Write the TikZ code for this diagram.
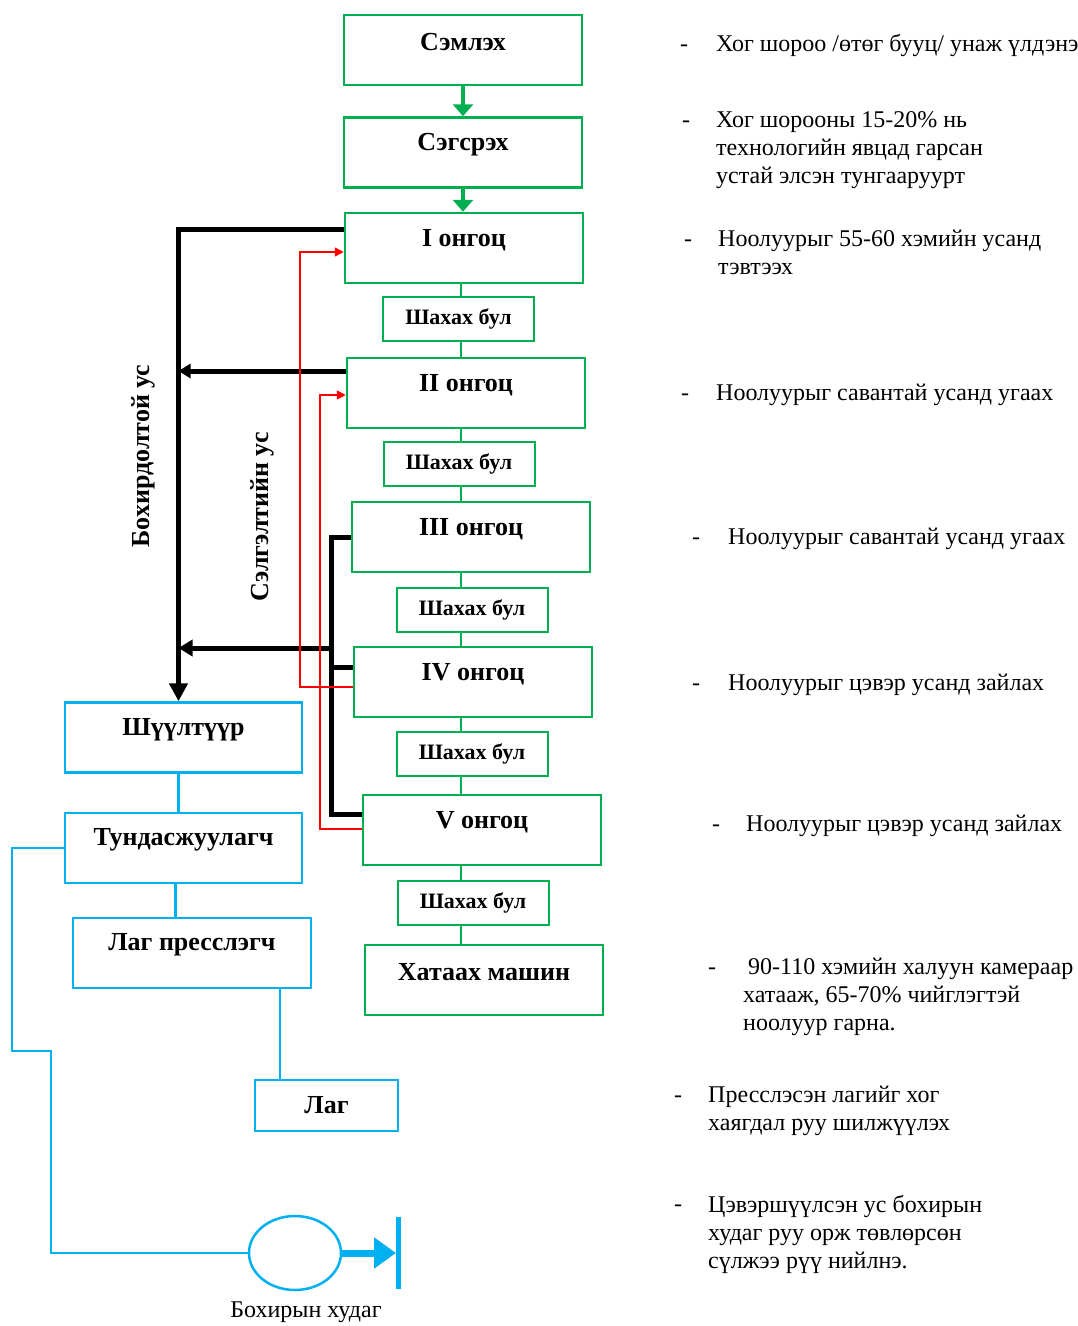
\documentclass[tikz,border=0pt]{standalone}
\usepackage{fontspec}
\setmainfont{Liberation Serif}
\usetikzlibrary{arrows.meta,shapes.geometric,positioning}
\definecolor{wgreen}{RGB}{0,176,80}
\definecolor{wblue}{RGB}{0,176,240}
\newcommand{\txt}{\fontsize{24}{28}\selectfont}
\newcommand{\bigtxt}{\fontsize{26}{30}\selectfont}
\newcommand{\smalltxt}{\fontsize{22}{26}\selectfont}
\tikzset{
  gbox/.style={draw=wgreen, line width=2.5pt, minimum width=238pt, minimum height=70pt},
  roller/.style={draw=wgreen, line width=2pt, minimum width=151pt, minimum height=44pt, inner sep=0, font=\smalltxt\bfseries},
  bbox/.style={draw=wblue, line width=2.5pt, minimum width=237pt, minimum height=70pt},
  lbl/.style={inner sep=0, font=\bigtxt\bfseries},
  gline/.style={draw=wgreen, line width=2pt},
  garrow/.style={draw=wgreen, line width=4pt, -{Triangle[length=12pt,width=20pt]}},
  kline/.style={line width=5pt},
  rline/.style={draw=red, line width=1.6pt, -{Triangle[length=9pt,width=9pt]}},
  bline/.style={draw=wblue, line width=2.5pt},
  desc/.style={anchor=north west, align=left, inner sep=0, font=\txt},
  bulletmark/.style={anchor=west, inner sep=0, font=\txt}
}
\begin{document}
\begin{tikzpicture}[x=1pt,y=-1pt]
    \useasboundingbox (0,0) rectangle (1078,1326);

    % Ногоон хайрцагууд: угаах шугам
    \node[gbox] (semleh) at (463,50) {};
    \node[lbl] (semlehT) at ([yshift=-28pt]semleh.north) {Сэмлэх};
    \node[gbox] (segserekh) at (463,152.5) {};
    \node[lbl] (segserekhT) at ([yshift=-28pt]segserekh.north) {Сэгсрэх};

    \node[gbox] (ong1) at (464,248) {};
    \node[lbl] (ong1T) at ([yshift=-28pt]ong1.north) {I онгоц};
    \node[roller] (bul1) at (458.5,319) {Шахах бул};

    \node[gbox] (ong2) at (466,393) {};
    \node[lbl] (ong2T) at ([yshift=-28pt]ong2.north) {II онгоц};
    \node[roller] (bul2) at (459,464) {Шахах бул};

    \node[gbox] (ong3) at (471,537) {};
    \node[lbl] (ong3T) at ([yshift=-28pt]ong3.north) {III онгоц};
    \node[roller] (bul3) at (472,610) {Шахах бул};

    \node[gbox] (ong4) at (473,682) {};
    \node[lbl] (ong4T) at ([yshift=-28pt]ong4.north) {IV онгоц};
    \node[roller] (bul4) at (472,754) {Шахах бул};

    \node[gbox] (ong5) at (482,830) {};
    \node[lbl] (ong5T) at ([yshift=-28pt]ong5.north) {V онгоц};
    \node[roller] (bul5) at (473,902.5) {Шахах бул};

    \node[gbox] (hataah) at (484,980) {};
    \node[lbl] (hataahT) at ([yshift=-28pt]hataah.north) {Хатаах машин};

    % Ногоон холбоос
    \coordinate (spine) at (461,0);
    \draw[garrow] (semleh.south) -- (segserekh.north);
    \draw[garrow] (segserekh.south) -- (segserekh.south |- ong1.north);
    \foreach \a/\b in {ong1/bul1,bul1/ong2,ong2/bul2,bul2/ong3,ong3/bul3,bul3/ong4,ong4/bul4,bul4/ong5,ong5/bul5,bul5/hataah}
        \draw[gline] (spine |- \a.south) -- (spine |- \b.north);

    % Цэнхэр хайрцагууд: цэвэрлэгээ
    \node[bbox] (shuultuur) at (183.5,737.5) {};
    \node[lbl] (shuultuurT) at ([yshift=-28pt]shuultuur.north) {Шүүлтүүр};
    \node[bbox] (tundas) at (183.5,848) {};
    \node[lbl] (tundasT) at ([yshift=-28pt]tundas.north) {Тундасжуулагч};
    \node[bbox, minimum width=238pt] (press) at (192,953) {};
    \node[lbl] (pressT) at ([yshift=-28pt]press.north) {Лаг пресслэгч};
    \node[bbox, minimum width=143pt, minimum height=51pt, font=\bigtxt\bfseries] (lag) at (326.5,1105.5) {Лаг};
    \node[ellipse, draw=wblue, line width=2.5pt, minimum width=92pt, minimum height=74pt] (hudag) at (295,1253) {};
    \node[inner sep=0, font=\txt] (hudagT) at (306,1312) {Бохирын худаг};
    \coordinate (bar) at (398,1253);

    % Бохирдолтой ус
    \coordinate (sink) at ([xshift=-5pt]shuultuur.north);
    \draw[kline, -{Triangle[length=18pt,width=18pt]}] ([yshift=19pt]ong1.west) -| (sink);
    \coordinate (k2) at ([yshift=22pt]ong2.west);
    \draw[kline, -{Triangle[length=12pt,width=14pt]}] (k2) -- (k2 -| sink);
    \draw[kline] (ong3.west) -- ++(-19,0) |- ([yshift=16pt]ong5.west);
    \draw[kline] ([yshift=15pt]ong4.west) -- ++(-21,0);
    \coordinate (jn) at (333,648);
    \draw[kline, -{Triangle[length=14pt,width=16pt]}] (jn) -- (jn -| sink);

    % Сэлгэлтийн ус
    \draw[rline] ([yshift=-5pt]ong4.west) -- ++(-53,0) |- ([yshift=-4pt]ong1.west);
    \draw[rline] ([yshift=1pt]ong5.west) -- ++(-42,0) |- ([yshift=-2pt]ong2.west);

    \node[lbl, rotate=90] (bohir) at (143,456) {Бохирдолтой ус};
    \node[lbl, rotate=90] (selgelt) at (262,517) {Сэлгэлтийн ус};

    % Цэнхэр холбоос
    \draw[bline] (sink |- shuultuur.south) -- (sink |- tundas.north);
    \draw[bline] ([xshift=-8pt]tundas.south) -- ([xshift=-8pt]tundas.south |- press.north);
    \draw[bline] ([xshift=88pt]press.south) -- ([xshift=88pt]press.south |- lag.north);
    \draw[bline] (tundas.west) -- ++(-52,0) -- ++(0,203) -- ++(39,0) |- (hudag.west);
    \draw[draw=wblue, line width=7pt, -{Triangle[length=22pt,width=30pt]}] (hudag.east) -- ([xshift=-2pt]bar);
    \draw[draw=wblue, line width=5pt] ([yshift=36pt]bar) -- ([yshift=-36pt]bar);

    % Тайлбар
    \node[bulletmark] (m1) at (680,48) {-};
    \node[desc] (d1) at (716,34) {Хог шороо /өтөг бууц/ унаж үлдэнэ};
    \node[bulletmark] (m2) at (682,124) {-};
    \node[desc] (d2) at (716,111) {Хог шорооны 15-20\% нь\\технологийн явцад гарсан\\устай элсэн тунгааруурт};
    \node[bulletmark] (m3) at (684,243) {-};
    \node[desc] (d3) at (718,230) {Ноолуурыг 55-60 хэмийн усанд\\тэвтээх};
    \node[bulletmark] (m4) at (681,397) {-};
    \node[desc] (d4) at (716,384) {Ноолуурыг савантай усанд угаах};
    \node[bulletmark] (m5) at (692,541) {-};
    \node[desc] (d5) at (728,528) {Ноолуурыг савантай усанд угаах};
    \node[bulletmark] (m6) at (692,687) {-};
    \node[desc] (d6) at (728,674) {Ноолуурыг цэвэр усанд зайлах};
    \node[bulletmark] (m7) at (712,828) {-};
    \node[desc] (d7) at (746,815) {Ноолуурыг цэвэр усанд зайлах};
    \node[bulletmark] (m8) at (708,971) {-};
    \node[desc] (d8) at (743,958) {\hspace*{5pt}90-110 хэмийн халуун камераар\\хатааж, 65-70\% чийглэгтэй\\ноолуур гарна.};
    \node[bulletmark] (m9) at (674,1099) {-};
    \node[desc] (d9) at (708,1086) {Пресслэсэн лагийг хог\\хаягдал руу шилжүүлэх};
    \node[bulletmark] (m10) at (674,1208) {-};
    \node[desc] (d10) at (708,1195) {Цэвэршүүлсэн ус бохирын\\худаг руу орж төвлөрсөн\\сүлжээ рүү нийлнэ.};
\end{tikzpicture}
\end{document}
